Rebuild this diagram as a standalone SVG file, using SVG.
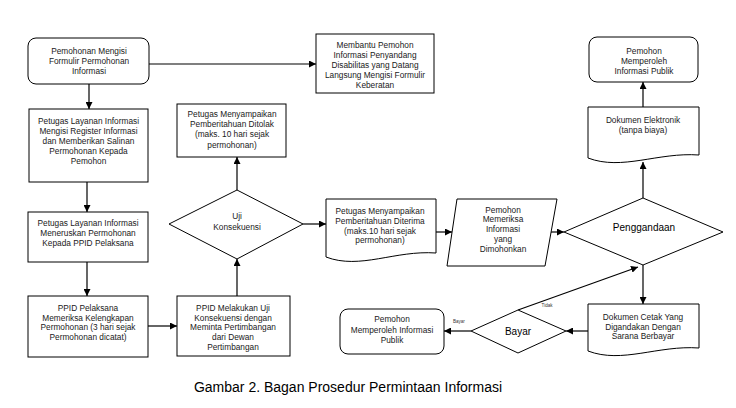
<svg xmlns="http://www.w3.org/2000/svg" width="736" height="408" viewBox="0 0 736 408">
<style>
.s{fill:#fff;stroke:#000;stroke-width:1}
.t{font-family:"Liberation Sans",Arial,sans-serif;font-size:8.3px;fill:#1a1a1a;text-anchor:middle}
.b{font-family:"Liberation Sans",Arial,sans-serif;font-size:10px;fill:#000;text-anchor:middle}
.x{font-family:"Liberation Sans",Arial,sans-serif;font-size:4.5px;fill:#333;text-anchor:middle}
.c{fill:none;stroke:#000;stroke-width:1.2}
.cap{font-family:"Liberation Sans",Arial,sans-serif;font-size:14px;fill:#000;text-anchor:middle}
</style>
<defs>
<marker id="ah" viewBox="0 0 10 10" refX="10" refY="5" markerWidth="7" markerHeight="7" orient="auto" markerUnits="userSpaceOnUse"><path d="M0,0 L10,5 L0,10 z" fill="#000"/></marker>
</defs>
<rect width="736" height="408" fill="#fff"/>

<g id="connectors">
<line class="c" x1="89" y1="84" x2="89" y2="109" marker-end="url(#ah)"/>
<line class="c" x1="149" y1="64" x2="316" y2="64" marker-end="url(#ah)"/>
<line class="c" x1="87" y1="182" x2="87" y2="212" marker-end="url(#ah)"/>
<line class="c" x1="87" y1="262" x2="87" y2="296" marker-end="url(#ah)"/>
<line class="c" x1="148" y1="326" x2="177" y2="326" marker-end="url(#ah)"/>
<line class="c" x1="237" y1="296" x2="237" y2="259" marker-end="url(#ah)"/>
<line class="c" x1="237" y1="190" x2="237" y2="157" marker-end="url(#ah)"/>
<line class="c" x1="303" y1="224" x2="326" y2="224" marker-end="url(#ah)"/>
<line class="c" x1="436" y1="232" x2="452" y2="232" marker-end="url(#ah)"/>
<line class="c" x1="551" y1="232" x2="564" y2="232" marker-end="url(#ah)"/>
<line class="c" x1="643" y1="198" x2="643" y2="162" marker-end="url(#ah)"/>
<line class="c" x1="643" y1="107" x2="643" y2="82" marker-end="url(#ah)"/>
<line class="c" x1="643" y1="265" x2="643" y2="304" marker-end="url(#ah)"/>
<line class="c" x1="588" y1="331" x2="566" y2="331" marker-end="url(#ah)"/>
<line class="c" x1="471" y1="331" x2="444" y2="331" marker-end="url(#ah)"/>
<line class="c" x1="518" y1="310" x2="638" y2="267" marker-end="url(#ah)"/>
<text class="x" x="459" y="323">Bayar</text>
<text class="x" x="547" y="307">Tidak</text>
</g>

<g id="n1">
<rect class="s" x="28" y="38" width="121" height="46" rx="8"/>
<text class="t" x="89" y="53.5">Pemohonan Mengisi</text>
<text class="t" x="89" y="63.5">Formulir Permohonan</text>
<text class="t" x="89" y="73.5">Informasi</text>
</g>

<g id="n_membantu">
<rect class="s" x="316" y="34" width="118" height="59"/>
<text class="t" x="375" y="48">Membantu Pemohon</text>
<text class="t" x="375" y="58">Informasi Penyandang</text>
<text class="t" x="375" y="68">Disabilitas yang Datang</text>
<text class="t" x="375" y="78">Langsung Mengisi Formulir</text>
<text class="t" x="375" y="87.5">Keberatan</text>
</g>

<g id="n2">
<rect class="s" x="29" y="109" width="119" height="73"/>
<text class="t" x="88.5" y="123.5">Petugas Layanan Informasi</text>
<text class="t" x="88.5" y="133.5">Mengisi Register Informasi</text>
<text class="t" x="88.5" y="143.5">dan Memberikan Salinan</text>
<text class="t" x="88.5" y="153.5">Permohonan Kepada</text>
<text class="t" x="88.5" y="163.5">Pemohon</text>
</g>

<g id="n_ditolak">
<rect class="s" x="177" y="104" width="109" height="53"/>
<text class="t" x="232" y="117">Petugas Menyampaikan</text>
<text class="t" x="232" y="127">Pemberitahuan Ditolak</text>
<text class="t" x="232" y="137">(maks. 10 hari sejak</text>
<text class="t" x="232" y="147.5">permohonan)</text>
</g>

<g id="n3">
<rect class="s" x="28" y="212" width="120" height="50"/>
<text class="t" x="88" y="226">Petugas Layanan Informasi</text>
<text class="t" x="88" y="236">Meneruskan Permohonan</text>
<text class="t" x="88" y="245.5">Kepada PPID Pelaksana</text>
</g>

<g id="n4">
<rect class="s" x="28" y="296" width="120" height="61"/>
<text class="t" x="88" y="311">PPID Pelaksana</text>
<text class="t" x="88" y="320.5">Memeriksa Kelengkapan</text>
<text class="t" x="88" y="330">Permohonan (3 hari sejak</text>
<text class="t" x="88" y="339.5">Permohonan dicatat)</text>
</g>

<g id="n5">
<rect class="s" x="177" y="296" width="113" height="60"/>
<text class="t" x="233" y="310.5">PPID Melakukan Uji</text>
<text class="t" x="233" y="320.5">Konsekuensi dengan</text>
<text class="t" x="233" y="330">Meminta Pertimbangan</text>
<text class="t" x="233" y="340">dari Dewan</text>
<text class="t" x="233" y="349.5">Pertimbangan</text>
</g>

<g id="d_uji">
<polygon class="s" points="237,190 303,224 237,259 169,224"/>
<text class="t" x="237" y="219">Uji</text>
<text class="t" x="237" y="230">Konsekuensi</text>
</g>

<g id="n_diterima">
<path class="s" d="M326,199 H436 V253 C395,250 360,270 326,257 Z"/>
<text class="t" x="380" y="213.5">Petugas Menyampaikan</text>
<text class="t" x="380" y="223.5">Pemberitahuan Diterima</text>
<text class="t" x="380" y="233.5">(maks.10 hari sejak</text>
<text class="t" x="380" y="243">permohonan)</text>
</g>

<g id="n_memeriksa">
<polygon class="s" points="457,199 557,199 545,266 447,266"/>
<text class="t" x="503" y="213">Pemohon</text>
<text class="t" x="503" y="222.3">Memeriksa</text>
<text class="t" x="503" y="232">Informasi</text>
<text class="t" x="503" y="242.3">yang</text>
<text class="t" x="503" y="252.3">Dimohonkan</text>
</g>

<g id="d_penggandaan">
<polygon class="s" points="643,198 723,232 643,265 564,232"/>
<text class="b" x="644" y="230.5">Penggandaan</text>
</g>

<g id="n_elektronik">
<path class="s" d="M588,107 H699 V155 C658,152 622,171 588,158 Z"/>
<text class="t" x="643" y="123">Dokumen Elektronik</text>
<text class="t" x="643" y="133">(tanpa biaya)</text>
</g>

<g id="n_publik_top">
<rect class="s" x="589" y="37" width="109" height="45" rx="8"/>
<text class="t" x="644" y="53.5">Pemohon</text>
<text class="t" x="644" y="63.5">Memperoleh</text>
<text class="t" x="644" y="73.5">Informasi Publik</text>
</g>

<g id="n_cetak">
<path class="s" d="M588,304 H699 V348 C658,345 622,364 588,351 Z"/>
<text class="t" x="643" y="319.5">Dokumen Cetak Yang</text>
<text class="t" x="643" y="329.5">Digandakan Dengan</text>
<text class="t" x="643" y="338.5">Sarana Berbayar</text>
</g>

<g id="d_bayar">
<polygon class="s" points="518,310 566,331 518,353 471,331"/>
<text class="b" x="518" y="335">Bayar</text>
</g>

<g id="n_publik_bottom">
<rect class="s" x="340" y="309" width="104" height="45" rx="8"/>
<text class="t" x="392" y="322">Pemohon</text>
<text class="t" x="392" y="333">Memperoleh Informasi</text>
<text class="t" x="392" y="343">Publik</text>
</g>

<text class="cap" x="348" y="392">Gambar 2. Bagan Prosedur Permintaan Informasi</text>
</svg>
